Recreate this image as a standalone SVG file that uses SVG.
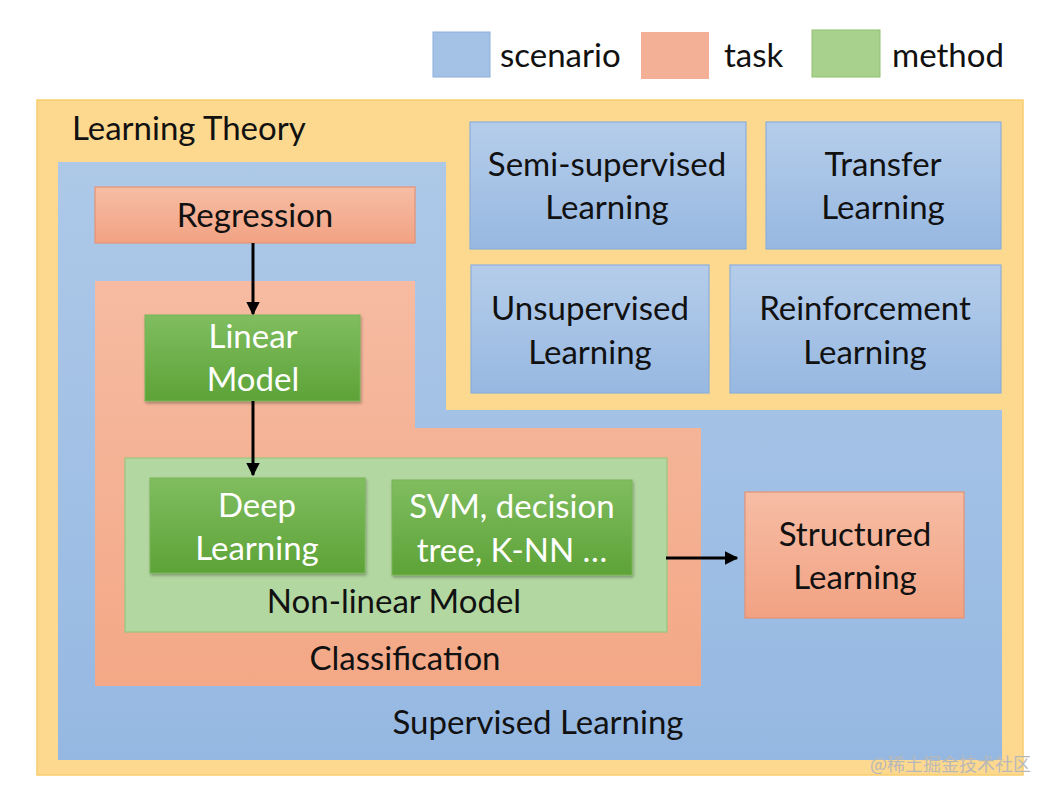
<svg xmlns="http://www.w3.org/2000/svg" width="1054" height="796" viewBox="0 0 1054 796">
<defs>
<linearGradient id="gBlue" x1="0" y1="0" x2="0" y2="1"><stop offset="0" stop-color="#b5cdea"/><stop offset="1" stop-color="#97b8e1"/></linearGradient>
<linearGradient id="gSal" x1="0" y1="0" x2="0" y2="1"><stop offset="0" stop-color="#f6bda5"/><stop offset="1" stop-color="#f2a283"/></linearGradient>
<linearGradient id="gGreen" x1="0" y1="0" x2="0" y2="1"><stop offset="0" stop-color="#80bd60"/><stop offset="1" stop-color="#5da337"/></linearGradient>
<linearGradient id="gSup" x1="0" y1="0" x2="0" y2="1"><stop offset="0" stop-color="#aec9e8"/><stop offset="1" stop-color="#95b8e2"/></linearGradient>
<linearGradient id="gCls" x1="0" y1="0" x2="0" y2="1"><stop offset="0" stop-color="#f6bba2"/><stop offset="1" stop-color="#f3a886"/></linearGradient>
<filter id="sh" x="-10%" y="-10%" width="130%" height="130%"><feDropShadow dx="1" dy="2" stdDeviation="1.5" flood-color="#000" flood-opacity="0.3"/></filter>
<marker id="arr" viewBox="0 0 10 10" refX="9" refY="5" markerWidth="4.5" markerHeight="4.5" orient="auto" markerUnits="strokeWidth"><path d="M0,0 L10,5 L0,10 z" fill="#000"/></marker>
</defs>
<style>
text{font-family:"Lato","Open Sans","Liberation Sans",sans-serif;font-size:33px;fill:#111;text-anchor:middle}
.w{fill:#fff}
.l{text-anchor:start}
.blue{fill:url(#gBlue);stroke:#8caedb;stroke-width:1.2}
.sal{fill:url(#gSal);stroke:#e59273;stroke-width:1.2}
.grn{fill:url(#gGreen);stroke:#78b558;stroke-width:1;filter:url(#sh)}
.wm{font-family:"Noto Sans CJK SC","Noto Sans",sans-serif;font-size:18px;fill:#b8b8b8;text-anchor:start}
</style>
<rect width="1054" height="796" fill="#fff"/>

<g id="legend">
<rect x="433" y="32" width="57" height="45" fill="#a4c2e6" stroke="#8caedb"/>
<text class="l" x="500" y="67" font-size="36">scenario</text>
<rect x="641" y="32" width="68" height="47" fill="#f4b097"/>
<text class="l" x="724" y="67" font-size="36">task</text>
<rect x="812" y="30" width="68" height="47" fill="#a9d18e" stroke="#8fc070"/>
<text class="l" x="892" y="67" font-size="36">method</text>
</g>

<g id="learning-theory">
<rect x="37" y="100" width="986" height="675" fill="#fdd98f" stroke="#f7cd6c" stroke-width="1.5"/>
<text class="l" x="72" y="140">Learning Theory</text>
</g>

<g id="supervised-learning">
<path d="M58,162 H446 V410 H1002 V760 H58 Z" fill="url(#gSup)"/>
<text x="538" y="734">Supervised Learning</text>
</g>

<g id="classification">
<path d="M95,281 H415 V428 H701 V686 H95 Z" fill="url(#gCls)"/>
<text x="405" y="670">Classification</text>
</g>

<g id="regression">
<rect class="sal" x="95" y="187" width="320" height="56"/>
<text x="255" y="227">Regression</text>
</g>

<g id="linear-model">
<rect class="grn" x="145" y="315" width="215" height="86"/>
<text class="w" x="253" y="348">Linear</text>
<text class="w" x="253" y="391">Model</text>
</g>

<g id="non-linear-model">
<rect x="125" y="458" width="542" height="174" fill="#b3d7a1" stroke="#98c680" stroke-width="1.2"/>
<text x="394" y="613">Non-linear Model</text>
</g>

<g id="deep-learning">
<rect class="grn" x="150" y="478" width="215" height="95"/>
<text class="w" x="257" y="517">Deep</text>
<text class="w" x="257" y="560">Learning</text>
</g>

<g id="svm">
<rect class="grn" x="392" y="480" width="240" height="95"/>
<text class="w" x="512" y="518">SVM, decision</text>
<text class="w" x="512" y="562">tree, K-NN …</text>
</g>

<g id="structured-learning">
<rect class="sal" x="745" y="492" width="219" height="126"/>
<text x="855" y="546">Structured</text>
<text x="855" y="589">Learning</text>
</g>

<g id="semi-supervised">
<rect class="blue" x="470" y="122" width="276" height="127"/>
<text x="607" y="176">Semi-supervised</text>
<text x="607" y="219">Learning</text>
</g>

<g id="transfer">
<rect class="blue" x="766" y="122" width="235" height="127"/>
<text x="883" y="176">Transfer</text>
<text x="883" y="219">Learning</text>
</g>

<g id="unsupervised">
<rect class="blue" x="471" y="265" width="238" height="128"/>
<text x="590" y="320">Unsupervised</text>
<text x="590" y="364">Learning</text>
</g>

<g id="reinforcement">
<rect class="blue" x="730" y="265" width="271" height="128"/>
<text x="865" y="320">Reinforcement</text>
<text x="865" y="364">Learning</text>
</g>

<g id="connectors" stroke="#000" stroke-width="3" fill="none">
<line x1="253" y1="243" x2="253" y2="314" marker-end="url(#arr)"/>
<line x1="253" y1="401" x2="253" y2="475" marker-end="url(#arr)"/>
<line x1="666" y1="558" x2="737" y2="558" marker-end="url(#arr)"/>
</g>

<text class="wm" x="870" y="771">@稀土掘金技术社区</text>
</svg>
